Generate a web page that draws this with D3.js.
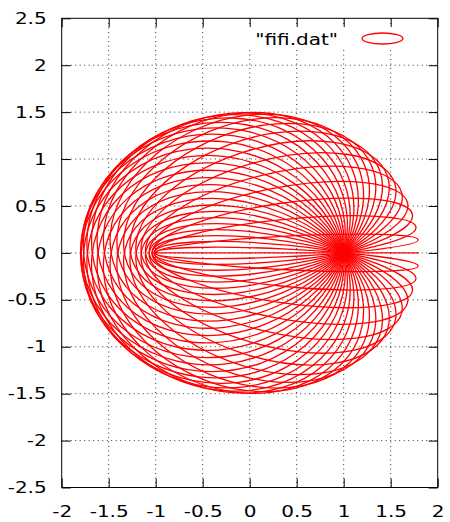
<!DOCTYPE html>
<html>
<head>
<meta charset="utf-8">
<script src="https://cdn.jsdelivr.net/npm/d3@7"></script>
<style>
  body { margin: 0; background: #fff; }
  text { font-family: "DejaVu Sans", sans-serif; font-size: 16px; fill: #000; }
</style>
</head>
<body>
<div id="chart"></div>
<script>
// ellipse centres (data units), one per ellipse in fifi.dat
const centerX = [0.4, 0.3939, 0.3759, 0.3464, 0.3064, 0.2571, 0.2, 0.1368, 0.0695, 0,
  -0.0695, -0.1368, -0.2, -0.2571, -0.3064, -0.3464, -0.3759, -0.3939, -0.4,
  -0.3939, -0.3759, -0.3464, -0.3064, -0.2571, -0.2, -0.1368, -0.0695, 0,
  0.0695, 0.1368, 0.2, 0.2571, 0.3064, 0.3464, 0.3759, 0.3939];
const centerY = [0, 0.0695, 0.1368, 0.2, 0.2571, 0.3064, 0.3464, 0.3759, 0.3939, 0.4,
  0.3939, 0.3759, 0.3464, 0.3064, 0.2571, 0.2, 0.1368, 0.0695, 0,
  -0.0695, -0.1368, -0.2, -0.2571, -0.3064, -0.3464, -0.3759, -0.3939, -0.4,
  -0.3939, -0.3759, -0.3464, -0.3064, -0.2571, -0.2, -0.1368, -0.0695];
// half axes and tilt of each ellipse (degrees)
const semiMajor = 1.4;
const semiMinor = [0, 0.1102, 0.2197, 0.3274, 0.4326, 0.5346, 0.6325, 0.7255, 0.8131, 0.8944,
  0.9690, 1.0362, 1.0955, 1.1464, 1.1886, 1.2218, 1.2457, 1.2601, 1.2649,
  1.2601, 1.2457, 1.2218, 1.1886, 1.1464, 1.0955, 1.0362, 0.9690, 0.8944,
  0.8131, 0.7255, 0.6325, 0.5346, 0.4326, 0.3274, 0.2197, 0.1102];
const tilt = [0, 2.85, 5.68, 8.45, 11.13, 13.70, 16.10, 18.30, 20.22, 21.80,
  22.94, 23.53, 23.41, 22.42, 20.34, 17.01, 12.36, 6.54, 0,
  -6.54, -12.36, -17.01, -20.34, -22.42, -23.41, -23.53, -22.94, -21.80,
  -20.22, -18.30, -16.10, -13.70, -11.13, -8.45, -5.68, -2.85];

const xTicks = [-2, -1.5, -1, -0.5, 0, 0.5, 1, 1.5, 2];
const yTicks = [-2.5, -2, -1.5, -1, -0.5, 0, 0.5, 1, 1.5, 2, 2.5];
const seriesName = '"fifi.dat"';

const width = 450, height = 522;
const margin = { top: 18.3, right: 12.3, bottom: 34.5, left: 61.7 };
const stretch = 1.25; // text in the picture is wider than it is tall

const svg = d3.select("#chart").append("svg")
  .attr("width", width)
  .attr("height", height);

const x = d3.scaleLinear()
  .domain([-2, 2])
  .range([margin.left, width - margin.right]);

const y = d3.scaleLinear()
  .domain([-2.5, 2.5])
  .range([height - margin.bottom, margin.top]);

const x0 = margin.left, x1 = width - margin.right;
const y0 = height - margin.bottom, y1 = margin.top;

// grid
svg.append("g")
  .selectAll("line")
  .data(xTicks.slice(1, -1))
  .join("line")
  .attr("x1", d => x(d)).attr("x2", d => x(d))
  .attr("y1", y0).attr("y2", y1)
  .attr("stroke", "#000")
  .attr("stroke-width", 0.8)
  .attr("stroke-dasharray", "1,3.5");

svg.append("g")
  .selectAll("line")
  .data(yTicks.slice(1, -1))
  .join("line")
  .attr("x1", x0).attr("x2", x1)
  .attr("y1", d => y(d)).attr("y2", d => y(d))
  .attr("stroke", "#000")
  .attr("stroke-width", 0.8)
  .attr("stroke-dasharray", "1,3.5");

// ellipses
const idx = d3.range(centerX.length);
svg.append("g")
  .selectAll("ellipse")
  .data(idx)
  .join("ellipse")
  .attr("cx", i => x(centerX[i]))
  .attr("cy", i => y(centerY[i]))
  .attr("rx", i => x(centerX[i] + semiMajor) - x(centerX[i]))
  .attr("ry", i => Math.max(y(centerY[i]) - y(centerY[i] + semiMinor[i]), 0.05))
  .attr("transform", i => `rotate(${-tilt[i]},${x(centerX[i])},${y(centerY[i])})`)
  .attr("fill", "none")
  .attr("stroke", "#ff0000")
  .attr("stroke-width", 1.3);

// axes, ticks pointing inwards on all four sides
svg.append("g")
  .attr("transform", `translate(0,${y0})`)
  .call(d3.axisBottom(x).tickValues(xTicks).tickSize(-9).tickPadding(18.6)
    .tickFormat(d3.format("")))
  .selectAll(".tick text")
  .attr("transform", `scale(${stretch},1)`);

svg.append("g")
  .attr("transform", `translate(${x0},0)`)
  .call(d3.axisLeft(y).tickValues(yTicks).tickSize(-9)
    .tickFormat(d3.format("")))
  .selectAll(".tick text")
  .attr("x", 0)
  .attr("transform", `translate(-15,0) scale(${stretch},1)`);

svg.append("g")
  .attr("transform", `translate(0,${y1})`)
  .call(d3.axisTop(x).tickValues(xTicks).tickSize(-9).tickFormat(""));
svg.append("g")
  .attr("transform", `translate(${x1},0)`)
  .call(d3.axisRight(y).tickValues(yTicks).tickSize(-9).tickFormat(""));

svg.selectAll(".domain").remove();
svg.selectAll(".tick line").attr("stroke", "#000");
svg.selectAll(".tick text")
  .style("font-family", '"DejaVu Sans", sans-serif')
  .style("font-size", "16px")
  .text(function () { return this.textContent.replace("\u2212", "-"); });

// border
svg.append("rect")
  .attr("x", x0).attr("y", y1)
  .attr("width", x1 - x0).attr("height", y0 - y1)
  .attr("fill", "none")
  .attr("stroke", "#000")
  .attr("stroke-width", 1);

// key
const key = svg.append("g");
key.append("rect")
  .attr("x", 246).attr("y", 27)
  .attr("width", 172).attr("height", 23)
  .attr("fill", "#fff");
key.append("text")
  .attr("text-anchor", "end")
  .attr("transform", `translate(338,44.5) scale(${stretch},1)`)
  .text(seriesName);
key.append("ellipse")
  .attr("cx", 382.5).attr("cy", 38.5)
  .attr("rx", 20.5).attr("ry", 5.5)
  .attr("fill", "none")
  .attr("stroke", "#ff0000")
  .attr("stroke-width", 1.3);
</script>
</body>
</html>
